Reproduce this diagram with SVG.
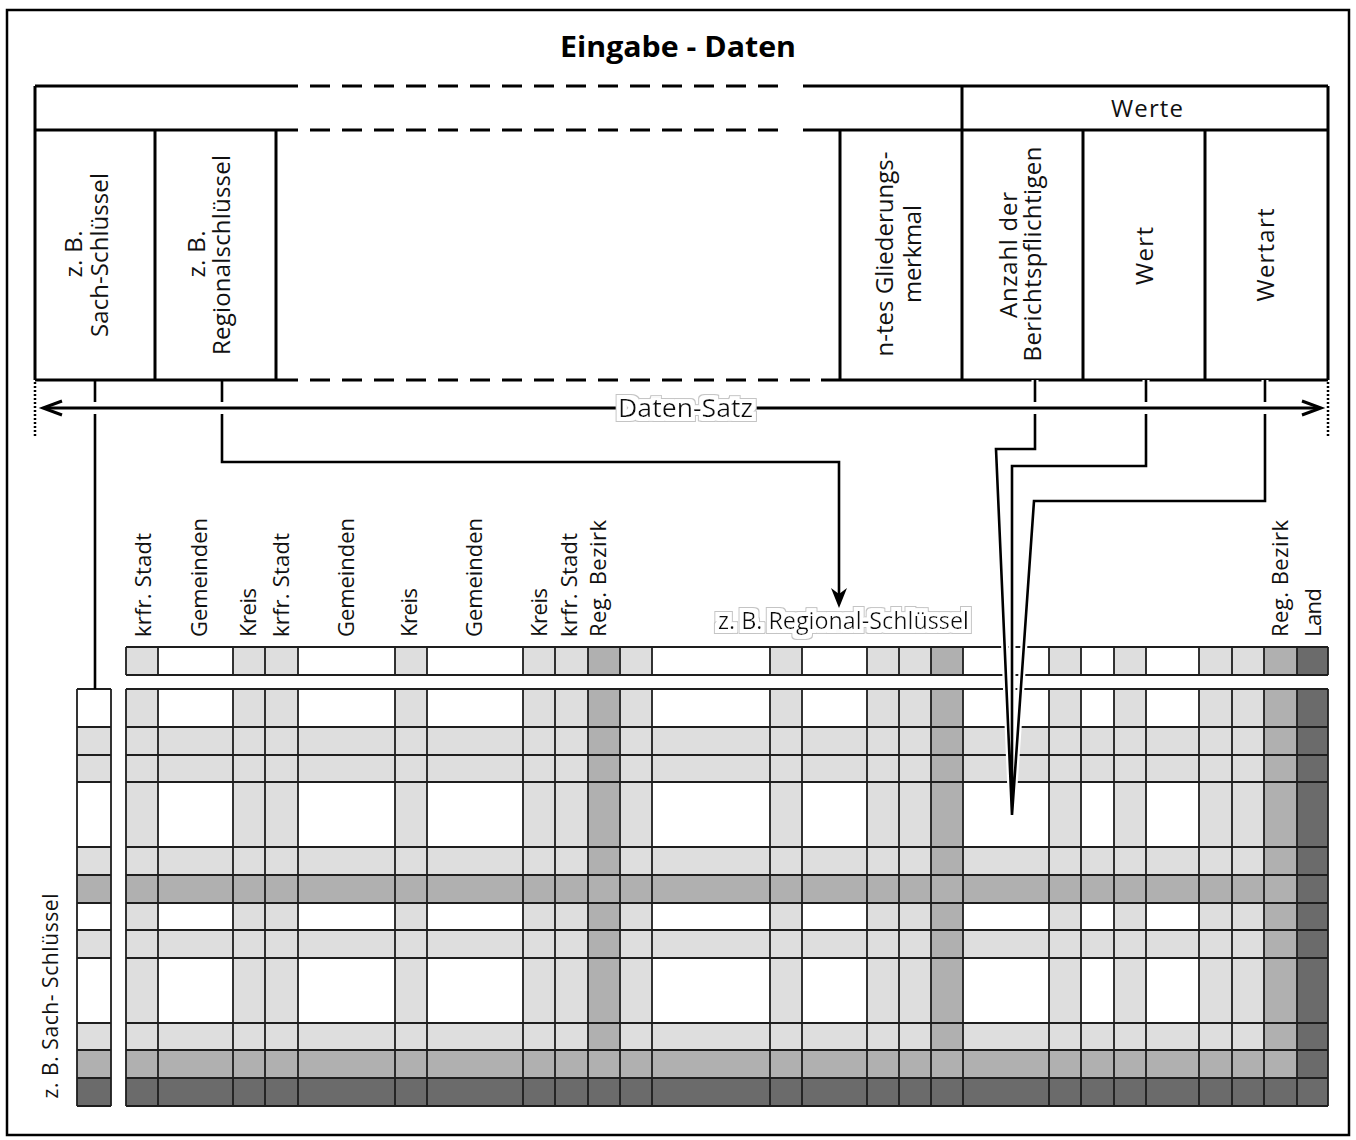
<svg xmlns="http://www.w3.org/2000/svg" width="1356" height="1140" viewBox="0 0 1356 1140">
<defs>
<style>
.frame{fill:none;stroke:#000;stroke-width:3;stroke-linecap:butt}
.dash{fill:none;stroke:#000;stroke-width:3;stroke-dasharray:20 12}
.conn{fill:none;stroke:#000;stroke-width:2.6;stroke-linejoin:miter}
.halo{fill:none;stroke:#fff;stroke-width:7;stroke-linejoin:miter}
.dot{fill:none;stroke:#000;stroke-width:2.5;stroke-dasharray:2 2}
.gl{fill:none;stroke:#1e1e1e;stroke-width:1.8}
.W{fill:#fff}
.L{fill:#dedede}
.M{fill:#b0b0b0}
.D{fill:#6b6b6b}
.vt{font-family:"Open Sans","Noto Sans","DejaVu Sans",sans-serif;font-size:24px;fill:#111;text-anchor:middle}
.lt{font-family:"Open Sans","Noto Sans","DejaVu Sans",sans-serif;font-size:22px;fill:#111;text-anchor:start}
.ht{font-family:"Open Sans","Noto Sans","DejaVu Sans",sans-serif;font-size:24px;fill:#111;text-anchor:middle}
.title{font-family:"Open Sans","Noto Sans","DejaVu Sans",sans-serif;font-size:29px;font-weight:bold;fill:#000;text-anchor:middle}
</style>
<filter id="halo" x="-5%" y="-50%" width="110%" height="200%">
<feMorphology in="SourceAlpha" operator="dilate" radius="5" result="d2"/>
<feFlood flood-color="#c4c4c4" result="g"/>
<feComposite in="g" in2="d2" operator="in" result="grayHalo"/>
<feMorphology in="SourceAlpha" operator="dilate" radius="4" result="d1"/>
<feFlood flood-color="#ffffff" result="w"/>
<feComposite in="w" in2="d1" operator="in" result="whiteHalo"/>
<feMerge><feMergeNode in="grayHalo"/><feMergeNode in="whiteHalo"/><feMergeNode in="SourceGraphic"/></feMerge>
</filter>
</defs>
<rect x="0" y="0" width="1356" height="1140" fill="#fff"/>
<rect id="border" x="7" y="10" width="1342" height="1125" fill="none" stroke="#000" stroke-width="2.5"/>

<g id="title"><text class="title" x="678" y="57" textLength="236" lengthAdjust="spacingAndGlyphs">Eingabe - Daten</text></g>

<g id="header">
<path class="frame" d="M35,86 H298 M803,86 H1328 M35,130 H298 M803,130 H1328 M35,380 H298 M821,380 H1328 M35,86 V380 M1328,86 V380 M962,86 V380 M155,130 V380 M276,130 V380 M840,130 V380 M1083,130 V380 M1205,130 V380"/>
<path class="dash" d="M310,86 H781 M310,130 H781 M310,380 H811"/>
</g>
<g id="werte"><text class="ht" x="1147" y="117" textLength="72">Werte</text></g>
<g id="col-sach">
<text class="vt" transform="translate(82,254) rotate(-90)" textLength="47">z. B.</text>
<text class="vt" transform="translate(108,255) rotate(-90)" textLength="164">Sach-Schlüssel</text>
</g>
<g id="col-regional">
<text class="vt" transform="translate(205,254) rotate(-90)" textLength="47">z. B.</text>
<text class="vt" transform="translate(230,255) rotate(-90)" textLength="200">Regionalschlüssel</text>
</g>
<g id="col-nmerkmal">
<text class="vt" transform="translate(893,254) rotate(-90)" textLength="205">n-tes Gliederungs-</text>
<text class="vt" transform="translate(921,254) rotate(-90)" textLength="98">merkmal</text>
</g>
<g id="col-anzahl">
<text class="vt" transform="translate(1017,255) rotate(-90)" textLength="126">Anzahl der</text>
<text class="vt" transform="translate(1041,254) rotate(-90)" textLength="215">Berichtspflichtigen</text>
</g>
<g id="col-wert"><text class="vt" transform="translate(1153,256) rotate(-90)" textLength="58">Wert</text></g>
<g id="col-wertart"><text class="vt" transform="translate(1274,255) rotate(-90)" textLength="93">Wertart</text></g>

<g id="region-labels">
<text class="lt" transform="translate(151,637) rotate(-90)" textLength="104">krfr. Stadt</text>
<text class="lt" transform="translate(207,637) rotate(-90)" textLength="119">Gemeinden</text>
<text class="lt" transform="translate(256,637) rotate(-90)" textLength="49">Kreis</text>
<text class="lt" transform="translate(289,637) rotate(-90)" textLength="104">krfr. Stadt</text>
<text class="lt" transform="translate(354,637) rotate(-90)" textLength="119">Gemeinden</text>
<text class="lt" transform="translate(417,637) rotate(-90)" textLength="49">Kreis</text>
<text class="lt" transform="translate(482,637) rotate(-90)" textLength="119">Gemeinden</text>
<text class="lt" transform="translate(547,637) rotate(-90)" textLength="49">Kreis</text>
<text class="lt" transform="translate(577,637) rotate(-90)" textLength="104">krfr. Stadt</text>
<text class="lt" transform="translate(606,637) rotate(-90)" textLength="117">Reg. Bezirk</text>
<text class="lt" transform="translate(1288,637) rotate(-90)" textLength="117">Reg. Bezirk</text>
<text class="lt" transform="translate(1321,637) rotate(-90)" textLength="49">Land</text>
</g>

<g id="key-row">
<rect class="W" x="126" y="647" width="1202" height="28"/>
<rect class="L" x="126" y="647" width="32" height="28"/>
<rect class="L" x="233" y="647" width="32" height="28"/>
<rect class="L" x="265" y="647" width="33" height="28"/>
<rect class="L" x="395" y="647" width="32" height="28"/>
<rect class="L" x="523" y="647" width="32" height="28"/>
<rect class="L" x="555" y="647" width="33" height="28"/>
<rect class="L" x="620" y="647" width="32" height="28"/>
<rect class="L" x="770" y="647" width="32" height="28"/>
<rect class="L" x="867" y="647" width="32" height="28"/>
<rect class="L" x="899" y="647" width="32" height="28"/>
<rect class="L" x="1049" y="647" width="32" height="28"/>
<rect class="L" x="1114" y="647" width="32" height="28"/>
<rect class="L" x="1199" y="647" width="33" height="28"/>
<rect class="L" x="1232" y="647" width="32" height="28"/>
<rect class="M" x="588" y="647" width="32" height="28"/>
<rect class="M" x="931" y="647" width="32" height="28"/>
<rect class="M" x="1264" y="647" width="33" height="28"/>
<rect class="D" x="1297" y="647" width="31" height="28"/>
<path class="gl" d="M126,647 H1328 M126,675 H1328 M126,647 V675 M158,647 V675 M233,647 V675 M265,647 V675 M298,647 V675 M395,647 V675 M427,647 V675 M523,647 V675 M555,647 V675 M588,647 V675 M620,647 V675 M652,647 V675 M770,647 V675 M802,647 V675 M867,647 V675 M899,647 V675 M931,647 V675 M963,647 V675 M1049,647 V675 M1081,647 V675 M1114,647 V675 M1146,647 V675 M1199,647 V675 M1232,647 V675 M1264,647 V675 M1297,647 V675 M1328,647 V675"/>
<text class="ht" x="843.5" y="629" textLength="251" lengthAdjust="spacingAndGlyphs" filter="url(#halo)" style="font-size:24px">z. B. Regional-Schlüssel</text>
</g>

<g id="key-column">
<rect class="W" x="77" y="689" width="34" height="38"/>
<rect class="L" x="77" y="727" width="34" height="28"/>
<rect class="L" x="77" y="755" width="34" height="27"/>
<rect class="W" x="77" y="782" width="34" height="65"/>
<rect class="L" x="77" y="847" width="34" height="28"/>
<rect class="M" x="77" y="875" width="34" height="28"/>
<rect class="W" x="77" y="903" width="34" height="27"/>
<rect class="L" x="77" y="930" width="34" height="28"/>
<rect class="W" x="77" y="958" width="34" height="65"/>
<rect class="L" x="77" y="1023" width="34" height="27"/>
<rect class="M" x="77" y="1050" width="34" height="28"/>
<rect class="D" x="77" y="1078" width="34" height="28"/>
<path class="gl" d="M77,689 V1106 M111,689 V1106 M77,689 H111 M77,727 H111 M77,755 H111 M77,782 H111 M77,847 H111 M77,875 H111 M77,903 H111 M77,930 H111 M77,958 H111 M77,1023 H111 M77,1050 H111 M77,1078 H111 M77,1106 H111"/>
<text class="vt" transform="translate(58,996) rotate(-90)" style="font-size:21px" textLength="205">z. B. Sach- Schlüssel</text>
</g>

<g id="grid">
<rect class="W" x="126" y="689" width="1202" height="417"/>
<rect class="L" x="126" y="727" width="1202" height="28"/>
<rect class="L" x="126" y="755" width="1202" height="27"/>
<rect class="L" x="126" y="847" width="1202" height="28"/>
<rect class="L" x="126" y="930" width="1202" height="28"/>
<rect class="L" x="126" y="1023" width="1202" height="27"/>
<rect class="L" x="126" y="689" width="32" height="417"/>
<rect class="L" x="233" y="689" width="32" height="417"/>
<rect class="L" x="265" y="689" width="33" height="417"/>
<rect class="L" x="395" y="689" width="32" height="417"/>
<rect class="L" x="523" y="689" width="32" height="417"/>
<rect class="L" x="555" y="689" width="33" height="417"/>
<rect class="L" x="620" y="689" width="32" height="417"/>
<rect class="L" x="770" y="689" width="32" height="417"/>
<rect class="L" x="867" y="689" width="32" height="417"/>
<rect class="L" x="899" y="689" width="32" height="417"/>
<rect class="L" x="1049" y="689" width="32" height="417"/>
<rect class="L" x="1114" y="689" width="32" height="417"/>
<rect class="L" x="1199" y="689" width="33" height="417"/>
<rect class="L" x="1232" y="689" width="32" height="417"/>
<rect class="M" x="126" y="875" width="1202" height="28"/>
<rect class="M" x="126" y="1050" width="1202" height="28"/>
<rect class="M" x="588" y="689" width="32" height="417"/>
<rect class="M" x="931" y="689" width="32" height="417"/>
<rect class="M" x="1264" y="689" width="33" height="417"/>
<rect class="D" x="126" y="1078" width="1202" height="28"/>
<rect class="D" x="1297" y="689" width="31" height="417"/>
<path class="gl" d="M126,689 H1328 M126,727 H1328 M126,755 H1328 M126,782 H1328 M126,847 H1328 M126,875 H1328 M126,903 H1328 M126,930 H1328 M126,958 H1328 M126,1023 H1328 M126,1050 H1328 M126,1078 H1328 M126,1106 H1328 M126,689 V1106 M158,689 V1106 M233,689 V1106 M265,689 V1106 M298,689 V1106 M395,689 V1106 M427,689 V1106 M523,689 V1106 M555,689 V1106 M588,689 V1106 M620,689 V1106 M652,689 V1106 M770,689 V1106 M802,689 V1106 M867,689 V1106 M899,689 V1106 M931,689 V1106 M963,689 V1106 M1049,689 V1106 M1081,689 V1106 M1114,689 V1106 M1146,689 V1106 M1199,689 V1106 M1232,689 V1106 M1264,689 V1106 M1297,689 V1106 M1328,689 V1106"/>
</g>

<g id="connectors">
<path class="conn" d="M95,380 V689"/>
<path class="conn" d="M222,380 V462 H839 V596"/>
<polygon points="839,608 831,588 839,594 847,588" fill="#000"/>
<path class="halo" d="M1035,380 V449 H996 L1012,815 M1146,380 V466 H1012 V815 M1265,380 V501 H1034 L1012,815"/>
<path class="conn" d="M1035,380 V449 H996 L1012,815 M1146,380 V466 H1012 V815 M1265,380 V501 H1034 L1012,815"/>
<path d="M44,408 H1320" fill="none" stroke="#fff" stroke-width="12"/>
<path d="M44,408 H1320" fill="none" stroke="#000" stroke-width="3"/>
<polyline points="62,401 43,408 62,415" fill="none" stroke="#000" stroke-width="3" stroke-linejoin="miter"/>
<polyline points="1302,401 1321,408 1302,415" fill="none" stroke="#000" stroke-width="3" stroke-linejoin="miter"/>
<path class="dot" d="M35,382 V436 M1328,382 V436"/>
<text class="ht" x="685.5" y="417" textLength="135" lengthAdjust="spacingAndGlyphs" filter="url(#halo)" style="font-size:26px">Daten-Satz</text>
</g>
</svg>
